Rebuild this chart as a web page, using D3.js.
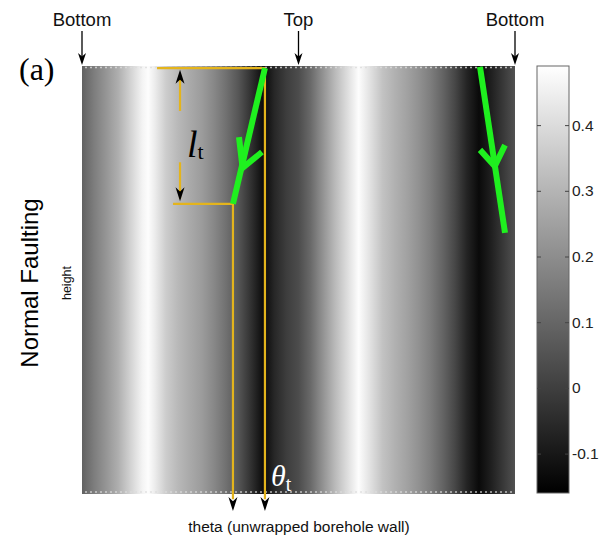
<!DOCTYPE html>
<html><head><meta charset="utf-8">
<script src="https://cdn.jsdelivr.net/npm/d3@7"></script>
<style>body{margin:0;background:#fff}svg{display:block}</style></head>
<body>
<script>
// ---- data ----
const thetaDeg = [0,10,20,30,40,50,55,60,70,80,90,100,110,120,130,140,150,155,160,170,180,190,200,210,220,230,240,250,260,270,280,290,300,310,320,330,340,350,360];
const stressValues = [0.086,0.159,0.221,0.284,0.372,0.460,0.485,0.447,0.359,0.309,0.272,0.234,0.184,0.126,0.058,-0.030,-0.125,-0.105,-0.060,-0.004,0.033,0.108,0.209,0.309,0.397,0.485,0.410,0.334,0.292,0.252,0.209,0.159,0.096,0.021,-0.067,-0.135,-0.080,-0.017,0.046];
const colorbarTicks = [-0.1,0,0.1,0.2,0.3,0.4];
const colorbarTickLabels = ["-0.1","0","0.1","0.2","0.3","0.4"];
const colorDomain = [-0.16,0.49];
// fault traces: [theta, height]
const faultLeft = [[152.1,0.5],[125.5,32.2]];
const faultLeftHead = [[130.5,16.6],[133.5,23.8],[149.6,20.1]];
const faultRight = [[330.9,0.2],[351.7,39.0]];
const faultRightHead = [[330.9,19.6],[343.2,23.4],[351.7,18.5]];
const topLabels = [{t:0,text:"Bottom"},{t:180,text:"Top"},{t:360,text:"Bottom"}];

// ---- layout ----
const W=600,H=544;
const img={x0:82,x1:515,y0:66,y1:494};
const x=d3.scaleLinear().domain([0,360]).range([img.x0,img.x1]);
const y=d3.scaleLinear().domain([0,100]).range([img.y0,img.y1]);
const gray=d3.scaleLinear().domain(colorDomain).range(["#000","#fff"]).clamp(true);
const cb={x0:537,x1:569,y0:66,y1:493};
const cy=d3.scaleLinear().domain(colorDomain).range([cb.y1,cb.y0]);
const sans="Liberation Sans, Arial, Helvetica";
const serif="Liberation Serif, Times New Roman";

const svg=d3.select("body").append("svg").attr("width",W).attr("height",H);
const defs=svg.append("defs");

// main image gradient
const g1=defs.append("linearGradient").attr("id","stress").attr("x1","0%").attr("x2","100%").attr("y1","0%").attr("y2","0%");
g1.selectAll("stop").data(thetaDeg).join("stop")
  .attr("offset",(d)=>(d/360*100)+"%")
  .attr("stop-color",(d,i)=>gray(stressValues[i]));
svg.append("rect").attr("x",img.x0).attr("y",img.y0).attr("width",img.x1-img.x0).attr("height",img.y1-img.y0).attr("fill","url(#stress)");
// dotted tick remnants at top and bottom edges
[img.y0+1.5,img.y1-2].forEach(yy=>{
  svg.append("line").attr("x1",img.x0+3).attr("x2",img.x1-3).attr("y1",yy).attr("y2",yy)
    .attr("stroke","#ddd").attr("stroke-width",1.5).attr("stroke-dasharray","2,3").attr("opacity",0.8);
});

// colorbar
const g2=defs.append("linearGradient").attr("id","cbar").attr("x1","0%").attr("x2","0%").attr("y1","100%").attr("y2","0%");
g2.append("stop").attr("offset","0%").attr("stop-color","#000");
g2.append("stop").attr("offset","100%").attr("stop-color","#fff");
svg.append("rect").attr("x",cb.x0).attr("y",cb.y0).attr("width",cb.x1-cb.x0).attr("height",cb.y1-cb.y0)
  .attr("fill","url(#cbar)").attr("stroke","#666").attr("stroke-width",1);
const axR=svg.append("g").attr("transform",`translate(${cb.x1},0)`)
  .call(d3.axisRight(cy).tickValues(colorbarTicks).tickFormat((d,i)=>colorbarTickLabels[i]).tickSizeInner(-4).tickSizeOuter(0).tickPadding(3));
axR.select(".domain").remove();
axR.selectAll("text").attr("font-family",sans).attr("font-size",15.5).attr("fill","#222");
axR.selectAll("line").attr("stroke","#444");
const axL=svg.append("g").attr("transform",`translate(${cb.x0},0)`)
  .call(d3.axisLeft(cy).tickValues(colorbarTicks).tickFormat("").tickSizeInner(-4).tickSizeOuter(0));
axL.select(".domain").remove();
axL.selectAll("line").attr("stroke","#444");

// arrowhead helper (dir: 1 down, -1 up)
function arrowHead(px,py,dir,len=14,w=4.5){
  const b=py-dir*len, n=py-dir*len*0.7;
  svg.append("path").attr("d",`M${px},${py}L${px-w},${b}L${px},${n}L${px+w},${b}Z`).attr("fill","#000");
}

// top labels & arrows
topLabels.forEach(d=>{
  const px=x(d.t);
  svg.append("text").attr("x",px).attr("y",26)
    .attr("text-anchor","middle").attr("font-family",sans).attr("font-size",18.5).attr("fill","#111").text(d.text);
  svg.append("line").attr("x1",px).attr("x2",px).attr("y1",31).attr("y2",58).attr("stroke","#000").attr("stroke-width",1.3);
  arrowHead(px,img.y0-1,1,12,4);
});

// yellow construction lines
const yellow="#e4b41c";
const yl=(t1,h1,t2,h2)=>svg.append("line").attr("x1",x(t1)).attr("y1",y(h1)).attr("x2",x(t2)).attr("y2",y(h2))
  .attr("stroke",yellow).attr("stroke-width",2.2);
yl(62.4,0.5,152.1,0.5);
yl(152.1,0.5,152.1,101.2);
yl(75.7,32.2,125.5,32.2);
yl(125.5,32.2,125.5,101.2);
arrowHead(x(152.1),y(104),1,14,4.5);
arrowHead(x(125.5),y(104),1,14,4.5);
// double arrow for l_t
yl(81.5,2,81.5,10.5);
yl(81.5,22.5,81.5,31);
arrowHead(x(81.5),y(0.9),-1,14,4.5);
arrowHead(x(81.5),y(31.6),1,14,4.5);

// green fault traces
const green="#1ff01f";
const line=d3.line().x(d=>x(d[0])).y(d=>y(d[1]));
[faultLeft,faultLeftHead,faultRight,faultRightHead].forEach(p=>{
  svg.append("path").attr("d",line(p)).attr("fill","none").attr("stroke",green).attr("stroke-width",6)
    .attr("stroke-linecap","butt").attr("stroke-linejoin","miter");
});

// labels
svg.append("text").attr("x",19).attr("y",80).attr("font-family",serif).attr("font-size",32).attr("fill","#000").text("(a)");
const lt=svg.append("text").attr("x",187).attr("y",157).attr("font-family",serif).attr("fill","#000");
lt.append("tspan").attr("font-style","italic").attr("font-size",38).text("l");
lt.append("tspan").attr("font-size",22).attr("dy",2).text("t");
const th=svg.append("text").attr("x",271).attr("y",486).attr("font-family",serif).attr("fill","#fff");
th.append("tspan").attr("font-style","italic").attr("font-size",30).text("θ");
th.append("tspan").attr("font-size",20).attr("dy",5).text("t");

svg.append("text").attr("transform","translate(38,283) rotate(-90)").attr("text-anchor","middle")
  .attr("font-family",sans).attr("font-size",24).attr("fill","#000").text("Normal Faulting");
svg.append("text").attr("transform","translate(71,283) rotate(-90)").attr("text-anchor","middle")
  .attr("font-family",sans).attr("font-size",12.5).attr("fill","#111").text("height");
svg.append("text").attr("x",299).attr("y",532).attr("text-anchor","middle")
  .attr("font-family",sans).attr("font-size",15.5).attr("fill","#111").text("theta (unwrapped borehole wall)");
</script>
</body></html>
